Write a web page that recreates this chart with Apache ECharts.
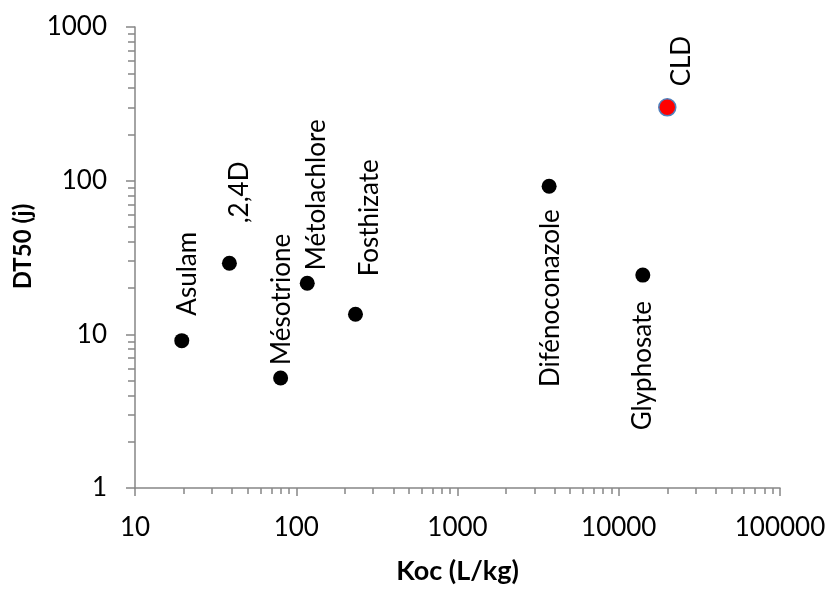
<!DOCTYPE html>
<html>
<head>
<meta charset="utf-8">
<script src="https://cdn.jsdelivr.net/npm/echarts@6/dist/echarts.min.js"></script>
<style>
html,body{margin:0;padding:0;background:#fff;}
#c{width:829px;height:590px;}
</style>
</head>
<body>
<div id="c"></div>
<script>
// Data
const names = ['Asulam', ',2,4D', 'Mésotrione', 'Métolachlore', 'Fosthizate', 'Difénoconazole', 'Glyphosate'];
const koc = [19.5, 38.5, 80, 117, 233, 3700, 14100];
const dt50 = [9.1, 29, 5.2, 21.5, 13.5, 92, 24.3];
const cldName = 'CLD';
const cldKoc = [20000];
const cldDt50 = [300];
const xTicks = [10, 100, 1000, 10000, 100000];
const yTicks = [1, 10, 100, 1000];

// label placement (styles only): offsets in the rotated text frame [along text, across text]
const labelOffsets = [[25, 6], [40, 10], [13, 1], [13, 9], [38, 14], [-23, 1], [-26, 0]];
const labelBelow = [false, false, false, false, false, true, true];

function minorVals(ticks) {
  const out = [];
  for (let i = 0; i < ticks.length - 1; i++) {
    for (let k = 2; k <= 9; k++) out.push(ticks[i] * k);
  }
  return out;
}

const FONT = 'Lato';
const axisColor = '#868686';
const fmt = v => String(Math.round(v));

const mainData = koc.map((x, i) => ({
  value: [x, dt50[i]],
  name: names[i],
  label: {
    show: true,
    formatter: names[i],
    position: 'inside',
    rotate: 90,
    align: labelBelow[i] ? 'right' : 'left',
    verticalAlign: 'middle',
    offset: labelOffsets[i],
    color: '#000',
    fontFamily: FONT,
    fontSize: 26
  }
}));

const cldData = cldKoc.map((x, i) => ({
  value: [x, cldDt50[i]],
  name: cldName,
  label: {
    show: true,
    formatter: cldName,
    position: 'inside',
    rotate: 90,
    align: 'left',
    verticalAlign: 'middle',
    offset: [21, 14],
    color: '#000',
    fontFamily: FONT,
    fontSize: 26
  }
}));

const chart = echarts.init(document.getElementById('c'), null, {renderer: 'canvas'});
chart.setOption({
  animation: false,
  backgroundColor: '#fff',
  grid: {left: 135, right: 49, top: 27, bottom: 97.5, containLabel: false},
  xAxis: [{
    type: 'log', logBase: 10, min: 10, max: 100000, position: 'bottom',
    name: 'Koc (L/kg)', nameLocation: 'middle', nameGap: 70,
    nameTextStyle: {fontFamily: FONT, fontWeight: 'bold', fontSize: 27, color: '#000'},
    axisLine: {onZero: false, lineStyle: {color: axisColor, width: 1.5}},
    axisTick: {show: true, inside: false, length: 8, lineStyle: {color: axisColor, width: 1.5}, customValues: xTicks},
    axisLabel: {fontFamily: FONT, fontSize: 26, color: '#000', margin: 27, customValues: xTicks, formatter: fmt},
    splitLine: {show: false}, minorTick: {show: false}, minorSplitLine: {show: false}
  }, {
    type: 'log', logBase: 10, min: 10, max: 100000, position: 'bottom',
    axisLine: {show: false, onZero: false},
    axisTick: {show: true, inside: false, length: 6, lineStyle: {color: axisColor, width: 1.5}, customValues: minorVals(xTicks)},
    axisLabel: {show: false},
    splitLine: {show: false}
  }],
  yAxis: [{
    type: 'log', logBase: 10, min: 1, max: 1000, position: 'left',
    name: 'DT50 (j)', nameLocation: 'middle', nameGap: 100, nameRotate: 90,
    nameTextStyle: {fontFamily: FONT, fontWeight: 'bold', fontSize: 24, color: '#000', padding: [0, 0, 0, 22]},
    axisLine: {show: true, onZero: false, lineStyle: {color: axisColor, width: 1.5}},
    axisTick: {show: true, inside: false, length: 9, lineStyle: {color: axisColor, width: 1.5}, customValues: yTicks},
    axisLabel: {fontFamily: FONT, fontSize: 26, color: '#000', margin: 28, customValues: yTicks, formatter: fmt},
    splitLine: {show: false}, minorTick: {show: false}, minorSplitLine: {show: false}
  }, {
    type: 'log', logBase: 10, min: 1, max: 1000, position: 'left',
    axisLine: {show: false, onZero: false},
    axisTick: {show: true, inside: false, length: 7, lineStyle: {color: axisColor, width: 1.5}, customValues: minorVals(yTicks)},
    axisLabel: {show: false},
    splitLine: {show: false}
  }],
  series: [{
    type: 'scatter',
    xAxisIndex: 0, yAxisIndex: 0,
    symbol: 'circle', symbolSize: 15,
    itemStyle: {color: '#000', opacity: 1},
    data: mainData,
    emphasis: {disabled: true}
  }, {
    type: 'scatter',
    xAxisIndex: 0, yAxisIndex: 0,
    symbol: 'circle', symbolSize: 17,
    itemStyle: {color: '#ff0000', borderColor: '#4f81bd', borderWidth: 1.5, opacity: 1},
    data: cldData,
    emphasis: {disabled: true}
  }]
});
</script>
</body>
</html>
